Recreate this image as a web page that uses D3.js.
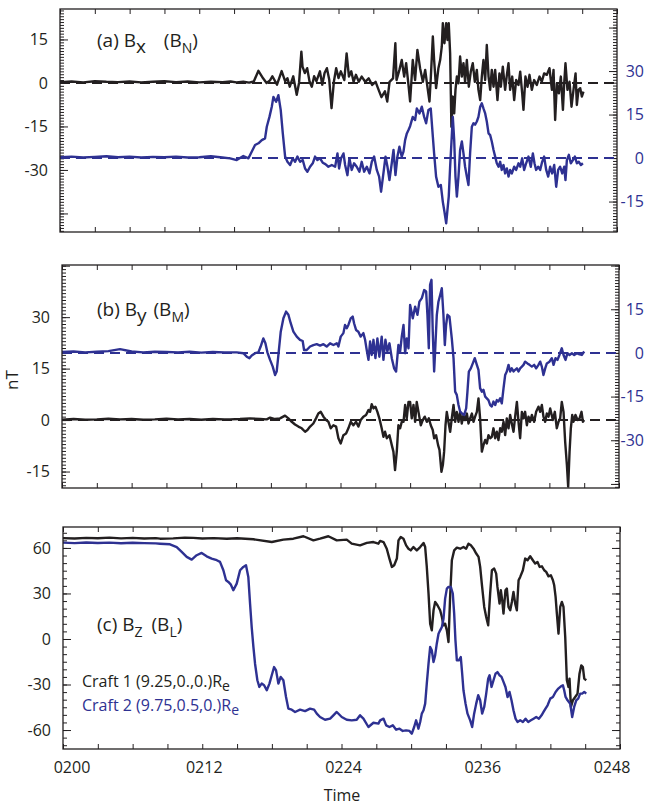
<!DOCTYPE html>
<meta charset="utf-8">
<style>
body { margin: 0; background: #fff; }
text { font-family: "Open Sans", sans-serif; }
</style>
<body>
<script src="https://d3js.org/d3.v7.min.js"></script>
<script>
// time = minutes after 02:00 UT, field values in nT
const timeTicks = [0, 12, 24, 36, 48];
const timeLabels = ["0200", "0212", "0224", "0236", "0248"];

const bxLeftLabels = [15, 0, -15, -30];
const bxRightLabels = [30, 15, 0, -15];
const byLeftLabels = [30, 15, 0, -15];
const byRightLabels = [15, 0, -15, -30];
const bzLabels = [60, 30, 0, -30, -60];

// (a) Bx, craft 1 (left axis)
const bxCraft1 = [[0,0.3],[1,0.5],[2,0.2],[3,0.6],[4,0.4],[5,0.3],[6,0.5],[7,0.2],[8,0.4],[9,0.6],[10,0.3],[11,0.5],[12,0.2],[13,0.4],[14,0.3],[14.7,0.5],[15.2,0.2],[15.8,0.4],[16.3,0.1],
[16.7,0.5],[17.1,4.2],[17.5,1.6],[17.8,0],[18.1,0.9],[18.3,2.3],[18.7,-0.6],[19.1,4.1],[19.4,0.6],[19.6,1.6],[19.8,-1.3],[20.1,2.3],[20.4,-4.1],[20.6,0],[20.8,10.8],[20.9,5.6],[21.1,3.4],[21.3,5.1],[21.5,0.6],[21.7,-1.3],[21.9,2.3],[22.1,0.6],[22.4,4.0],[22.6,-0.6],[22.8,3.4],[23.0,5.1],[23.2,1.2],[23.4,-8.7],[23.6,0.4],[23.8,5.1],[24.0,1.7],[24.2,4.0],[24.5,1.0],[24.7,10.2],[24.9,2.2],[25.1,4.0],[25.3,0.4],[25.5,2.8],[25.75,0.4],[26.0,2.2],[26.3,0.4],[26.6,1.6],[26.9,-0.7],[27.2,0.4],[27.4,-1.8],[27.7,-4.9],[28.0,-2.9],[28.2,-6.4],[28.4,0.4],[28.7,1.6],[28.9,13.7],[29.0,1.0],[29.25,4.5],[29.45,7.9],[29.66,2.2],[29.83,6.8],[30.03,-0.7],[30.17,-6.4],
[30.4,7.9],[30.6,1.0],[30.8,11.4],[31.03,5.1],[31.27,0.4],[31.47,4.5],[31.66,-1.3],[31.84,-6.4],[31.96,2.2],[32.13,16.0],[32.24,7.9],[32.41,-1.8],[32.61,5.1],[32.76,7.9],[32.9,12.5],[32.99,20.6],[33.13,13.7],[33.28,20.6],[33.39,14.8],[33.5,20.6],[33.62,10.2],[33.73,-15.1],[33.85,-4.7],[33.97,-10.5],[34.08,-2.4],[34.2,2.2],[34.34,-0.1],[34.48,9.1],[34.63,2.2],[34.77,6.8],[34.91,0.4],[35.06,7.9],[35.23,-1.3],[35.4,3.9],[35.57,6.8],[35.75,0.4],[35.92,4.5],[36.06,-2.4],[36.21,-5.9],[36.35,2.2],[36.49,7.9],[36.64,1.0],[36.78,13.1],[36.93,2.2],[37.07,-2.4],[37.21,4.5],[37.36,-1.3],[37.5,4.5],[37.7,-5.9],[37.87,3.3],[37.99,-1.3],[38.16,5.6],[38.36,-2.4],[38.51,2.8],[38.65,6.8],[38.79,-2.4],[38.97,2.2],[39.14,-5.9],[39.31,1.0],[39.51,-0.7],[39.66,3.9],[39.83,-3.6],[39.94,-9.3],[40.11,2.2],[40.29,-1.3],[40.46,2.8],[40.66,-2.4],[40.86,1.0],[41.09,-0.7],[41.32,2.2],[41.52,0.4],[41.72,3.3],[41.95,2.8],[42.18,5.1],[42.39,-2.4],[42.53,4.5],[42.67,-12.8],[42.82,-0.1],[42.99,-3.6],[43.16,2.2],[43.34,-9.3],[43.45,-0.1],[43.56,6.8],[43.73,-2.4],[43.91,0.4],[44.08,-8.2],[44.25,-2.4],[44.43,3.3],[44.54,-7.6],[44.68,-2.4],[44.83,-1.8],[44.97,-4.7],[45.11,-3.0]];

// (a) BN, craft 2 (right axis)
const bxCraft2 = [[0,0.3],[1,0.5],[2,0.2],[3,0.4],[4,0.6],[5,0.3],[6,0.5],[7,0.2],[8,0.4],[9,0.3],[10,0.5],[11,0.2],[12,0.3],[13,0.6],[14,0.2],
[14.66,-0.1],[15.23,-0.7],[15.8,0.7],[16.24,-0.1],[16.52,2.2],[16.81,4.5],[17.1,5.1],[17.39,6.2],[17.67,6.8],[17.82,10.8],[18.05,14.2],[18.25,17.7],[18.39,21.1],[18.62,19.4],[18.82,21.7],[19.02,16.6],[19.2,8.5],[19.4,0.5],[19.6,-1.3],[19.83,-2.4],[20.06,-0.1],[20.26,-1.3],[20.46,0.5],[20.69,-1.3],[20.92,-0.7],[21.12,-3.6],[21.32,-4.7],[21.55,-3.0],[21.78,-1.8],[21.98,0.5],[22.18,-0.7],[22.41,-0.1],[22.64,-1.6],[22.87,-2.1],[23.13,-3.0],[23.42,-2.4],[23.71,-3.0],[23.91,1.6],[24.05,-3.6],[24.22,-0.1],[24.43,1.6],[24.57,-2.4],[24.77,-5.9],[24.94,-0.1],[25.14,-4.1],[25.34,-1.8],[25.57,-3.0],[25.8,-4.7],[26.0,-1.3],[26.21,-4.7],[26.44,-3.0],[26.67,-5.3],[26.87,-1.3],[27.07,0.5],[27.3,-4.1],[27.5,-6.4],[27.67,-11.6],[27.87,-5.3],[28.05,0.5],[28.22,-3.0],[28.39,-7.6],[28.59,-1.8],[28.74,2.8],[28.91,-5.9],[29.08,0.5],[29.25,3.9],[29.45,0.5],[29.6,2.2],[29.74,6.2],[29.89,8.5],[30.03,9.7],[30.17,11.0],
[30.4,14.2],[30.6,13.1],[30.75,17.1],[30.98,15.4],[31.18,17.7],[31.38,14.2],[31.55,12.0],[31.75,16.6],[31.95,17.1],[32.13,7.4],[32.24,1.6],[32.41,-6.4],[32.61,-9.9],[32.82,-9.3],[32.99,-15.1],[33.13,-18.5],[33.28,-22.5],[33.39,-17.9],[33.5,-13.3],[33.62,-3.0],[33.76,7.4],[33.85,14.2],[33.97,6.2],[34.08,-6.4],[34.2,-13.3],[34.34,-6.4],[34.48,2.8],[34.63,5.7],[34.77,1.6],[34.91,-3.0],[35.06,-6.4],[35.2,-9.3],[35.34,1.6],[35.49,10.8],[35.63,12.0],[35.77,11.5],[35.92,12.6],[36.06,14.2],[36.21,17.7],[36.35,18.9],[36.49,17.1],[36.64,15.4],[36.78,12.6],[36.93,8.5],[37.07,7.9],[37.21,5.7],[37.36,2.8],[37.5,0.5],[37.64,-1.8],[37.79,-3.0],[37.93,-1.3],[38.07,-4.1],[38.22,-2.4],[38.36,-5.3],[38.51,-3.6],[38.65,-6.4],[38.79,-4.1],[38.94,-5.3],[39.14,-3.0],[39.31,-4.1],[39.51,-1.8],[39.66,-3.0],[39.83,-0.1],[40.0,-4.1],[40.17,-1.8],[40.37,0.5],[40.57,-3.0],[40.75,1.6],[40.89,-1.8],[41.03,-4.1],[41.21,-3.0],[41.38,-4.1],[41.55,-1.3],[41.72,0.5],[41.9,-4.1],[42.07,-6.4],[42.24,-3.0],[42.41,-5.3],[42.59,-2.4],[42.76,-9.9],[42.93,-4.1],[43.1,-3.0],[43.28,-5.3],[43.45,-3.0],[43.56,-7.6],[43.68,-0.7],[43.85,1.1],[44.02,-1.8],[44.2,-0.7],[44.37,0.5],[44.54,-1.8],[44.71,-1.3],[44.89,-2.4],[45.06,-1.8]];

// (b) By, craft 1 (left axis)
const byCraft1 = [[0,0.1],[1,0.3],[2,0.1],[3,0.2],[4,0.4],[5,0.2],[6,0.3],[7,0.1],[8,0.2],[9,0.4],[10,0.2],[11,0.3],[12,0.1],[13,0.3],[14,0.2],
[14.48,0.2],[15.34,0.3],[16.2,0.5],[17.07,0.3],[17.64,0.2],[17.93,0.7],[18.36,0.3],[18.79,0.5],[19.22,1.3],[19.51,0.5],[19.8,-0.5],[20.08,-1.3],[20.37,-1.9],[20.66,-2.4],[20.95,-3.4],[21.15,-2.9],[21.38,-1.9],[21.66,-1.0],[21.89,0.5],[22.09,1.9],[22.3,2.4],[22.53,1.0],[22.76,0],[22.96,-0.5],[23.16,-2.4],[23.39,-1.5],[23.62,-1.9],[23.82,-5.3],[24.02,-6.8],[24.25,-4.4],[24.48,-3.9],[24.68,-2.4],[24.88,-0.5],[25.11,-1.5],[25.34,-0.5],[25.54,-1.9],[25.74,0],[25.97,1.0],[26.2,1.5],[26.41,2.9],[26.55,2.4],[26.69,4.6],[26.84,3.4],[27.01,3.9],[27.18,2.4],[27.35,0.5],[27.55,-2.4],[27.7,-4.9],[27.84,-3.4],[27.99,-5.3],[28.22,-4.4],[28.42,-7.3],[28.56,-9.2],[28.7,-14.6],[28.85,-9.2],[28.99,-1.5],[29.14,-2.4],[29.28,-0.5],[29.43,-0.5],[29.57,4.4],[29.71,0.5],[29.86,5.3],
[30.0,5.3],[30.14,0.5],[30.29,4.4],[30.43,-0.5],[30.57,5.3],[30.72,2.4],[30.92,-1.5],[31.09,0],[31.26,1.0],[31.44,-0.5],[31.61,0.5],[31.78,-1.5],[31.95,-2.9],[32.07,-5.3],[32.24,-4.4],[32.41,-7.3],[32.53,-8.7],[32.7,-15.1],[32.82,-13.1],[32.93,-9.2],[33.05,-1.5],[33.16,2.4],[33.3,-0.5],[33.45,-3.4],[33.59,0.5],[33.74,4.4],[33.88,-0.5],[34.02,2.4],[34.17,-0.5],[34.31,2.4],[34.45,-1.0],[34.6,1.5],[34.74,0],[34.89,1.9],[35.03,-1.0],[35.17,0.5],[35.32,1.9],[35.46,-0.5],[35.6,1.0],[35.75,2.4],[35.89,6.3],[36.03,0.5],[36.18,-9.2],[36.32,-7.3],[36.47,-5.8],[36.61,-6.8],[36.75,-4.4],[36.9,-5.3],[37.04,-4.9],[37.18,-2.4],[37.33,-5.3],[37.47,-3.4],[37.61,-5.8],[37.76,-2.4],[37.9,-3.4],[38.05,-0.5],[38.19,-4.4],[38.33,0.5],[38.48,-2.4],[38.62,1.5],[38.76,-1.0],[38.91,-3.4],[39.05,1.0],[39.2,5.3],[39.34,-0.5],[39.48,-5.3],[39.63,2.4],[39.77,0.5],[39.91,2.4],[40.06,-1.5],[40.2,1.0],[40.34,-0.5],[40.49,1.5],[40.69,-0.5],[40.86,2.4],[41.06,3.9],[41.21,2.4],[41.35,4.4],[41.49,1.0],[41.64,-0.5],[41.78,1.9],[41.93,1.0],[42.07,3.4],[42.3,0],[42.47,2.4],[42.64,-2.4],[42.79,-0.5],[42.93,0.5],[43.07,5.3],[43.22,2.4],[43.36,-6.3],[43.51,-13.1],[43.62,-19.4],[43.74,-9.2],[43.85,-2.4],[43.97,1.5],[44.08,-0.5],[44.25,1.5],[44.43,0],[44.6,0.5],[44.77,2.4],[44.89,-0.5],[45.0,0]];

// (b) BM, craft 2 (right axis)
const byCraft2 = [[0,0.3],[1,0.5],[2,0.2],[3,0.4],[4,0.6],[5,1.3],[6,0.5],[7,0.2],[8,0.4],[9,0.3],[10,0.2],[11,0.4],[12,0.1],[13,0.3],[14,0.2],
[14.48,0.2],[15.05,0.2],[15.63,-0.1],[15.92,-1.3],[16.15,-1.8],[16.35,-0.9],[16.64,-0.1],[16.92,0.2],[17.12,2.2],[17.35,5.0],[17.53,3.3],[17.7,0.2],[17.93,-2.4],[18.16,-4.7],[18.36,-7.6],[18.5,-6.4],[18.65,-0.7],[18.85,7.3],[19.08,11.9],[19.31,14.2],[19.51,13.1],[19.71,10.2],[19.94,7.3],[20.23,5.6],[20.51,4.5],[20.74,4.1],[20.86,1.0],[21.09,1.0],[21.38,2.2],[21.66,2.7],[21.95,3.0],[22.24,2.5],[22.53,3.0],[22.81,2.2],[23.1,3.3],[23.39,2.7],[23.68,3.3],[23.82,2.2],[24.02,5.6],[24.25,6.8],[24.39,9.6],[24.54,8.5],[24.68,9.6],[24.88,11.9],[25.05,12.5],[25.17,10.2],[25.34,7.9],[25.54,7.3],[25.74,5.6],[25.97,6.8],[26.12,4.5],[26.26,1.0],[26.41,-2.4],[26.55,3.9],[26.69,-0.7],[26.84,4.5],[27.01,-1.8],[27.18,5.0],[27.35,-1.3],[27.55,5.6],[27.7,-2.4],[27.87,4.5],[28.04,0.5],[28.22,3.3],[28.42,-1.8],[28.62,-5.3],[28.79,-6.4],[28.99,2.7],[29.14,0.5],[29.28,5.6],[29.43,9.6],[29.57,-0.1],[29.71,5.0],[29.86,1.6],
[30.0,16.5],[30.23,11.9],[30.43,15.9],[30.63,13.1],[30.8,17.6],[31.01,18.8],[31.21,21.6],[31.38,21.1],[31.49,13.1],[31.61,1.6],[31.72,23.4],[31.84,25.1],[31.95,7.3],[32.07,-6.4],[32.18,2.7],[32.3,13.1],[32.44,17.6],[32.59,19.9],[32.73,22.2],[32.87,13.1],[32.99,2.7],[33.1,9.6],[33.22,13.1],[33.39,12.5],[33.59,5.0],[33.74,-1.8],[33.88,-13.3],[34.02,-14.4],[34.17,-17.9],[34.31,-20.2],[34.45,-20.7],[34.66,-21.3],[34.83,-19.0],[34.94,-13.3],[35.06,-6.4],[35.23,-5.3],[35.4,-3.6],[35.57,-1.8],[35.75,-4.1],[35.89,-5.8],[36.03,-12.1],[36.18,-13.3],[36.32,-12.7],[36.47,-15.0],[36.61,-15.6],[36.75,-16.2],[36.9,-17.9],[37.04,-18.4],[37.18,-16.7],[37.33,-17.9],[37.47,-16.2],[37.61,-16.7],[37.76,-15.6],[37.9,-17.3],[38.05,-12.1],[38.19,-7.6],[38.33,-6.4],[38.48,-4.1],[38.62,-6.4],[38.76,-5.3],[38.91,-6.4],[39.05,-5.8],[39.2,-5.3],[39.34,-6.4],[39.48,-5.3],[39.63,-4.7],[39.77,-4.1],[39.91,-3.0],[40.11,-3.6],[40.29,-4.1],[40.49,-4.7],[40.69,-4.1],[40.86,-5.3],[41.06,-4.1],[41.21,-3.0],[41.35,-4.7],[41.49,-7.6],[41.64,-5.3],[41.78,-3.6],[42.01,-3.0],[42.21,-1.8],[42.36,-4.1],[42.53,-1.8],[42.7,-2.4],[42.87,-0.7],[43.07,1.6],[43.22,-0.7],[43.39,-2.4],[43.56,-0.1],[43.74,-0.7],[43.94,-0.1],[44.14,-0.7],[44.37,-0.1],[44.6,-0.5],[44.8,-0.7],[45.0,0.5]];

// (c) Bz, craft 1
const bzCraft1 = [[0,66.5],[1,66.2],[2,66.6],[3,66.4],[4,66.8],[5,66.3],[6,66.6],[7,66.2],[8,66.5],[8.36,66.1],[9.5,66.3],[10.5,66.8],[11.23,66.6],[12,66.2],[13,66.5],[14.11,66.1],[15,66.4],[16.41,65.7],[17.99,63.9],[18.99,65.5],[19.85,66.1],[20.72,67.7],[21.58,65.0],[22.15,66.1],[22.87,67.7],[23.59,65.0],[24.45,65.5],[24.88,62.8],[25.6,61.7],[26.18,63.3],[26.75,63.9],[27.18,62.8],
[27.33,64.6],[27.62,63.9],[27.9,59.5],[28.13,53.0],[28.34,47.5],[28.54,48.6],[28.77,53.0],[28.91,65.0],[29.11,67.2],[29.34,66.1],[29.57,61.7],[29.77,59.5],[29.97,58.4],[30.2,60.6],[30.49,58.4],[30.78,60.6],[31.07,63.3],[31.21,60.6],[31.35,47.5],[31.5,29.9],[31.64,10.1],[31.78,5.7],[31.93,18.9],[32.07,24.4],[32.27,22.2],[32.5,18.9],[32.65,14.5],[32.79,9.0],[32.93,10.1],[33.08,5.7],[33.22,-2.0],[33.36,27.7],[33.51,51.9],[33.71,58.4],[33.94,60.2],[34.23,59.5],[34.51,60.6],[34.74,59.5],[34.94,62.8],[35.15,61.7],[35.38,59.5],[35.61,56.3],[35.81,54.1],[35.95,47.5],[36.09,36.5],[36.3,21.1],[36.47,14.5],[36.64,9.0],[36.81,29.9],[36.96,45.3],[37.16,46.4],[37.33,43.1],[37.44,34.3],[37.62,23.3],[37.73,32.1],[37.85,25.5],[37.96,16.7],[38.13,32.1],[38.25,33.2],[38.39,21.1],[38.54,18.9],[38.68,24.4],[38.82,31.0],[38.97,23.3],[39.11,18.9],[39.26,38.7],[39.4,40.9],[39.63,45.3],[39.83,53.0],[40.03,51.9],[40.26,54.5],[40.49,51.9],[40.69,49.7],[40.89,50.8],[41.07,47.5],[41.27,47.9],[41.47,45.3],[41.64,44.2],[41.84,41.3],[42.04,42.0],[42.22,38.7],[42.33,35.4],[42.45,27.7],[42.56,16.7],[42.7,3.5],[42.85,21.1],[42.99,24.4],[43.13,21.1],[43.28,1.3],[43.42,-27.2],[43.56,-31.6],[43.65,-26.1],[43.77,-44.8],[43.94,-40.4],[44.14,-38.2],[44.34,-36.0],[44.51,-22.9],[44.66,-17.4],[44.8,-18.5],[44.92,-26.1],[45.09,-27.2]];

// (c) BL, craft 2
const bzCraft2 = [[0,63.5],[1,63.2],[2,63.6],[3,63.3],[4,63.5],[5,63.1],[6,63.4],[7,63.2],[8,63.0],[8.36,62.8],[9.22,62.4],[9.8,60.6],[10.23,57.4],[10.66,54.1],[11.09,52.3],[11.52,55.2],[11.95,56.7],[12.38,54.5],[12.81,53.0],[13.25,51.9],[13.53,50.8],[13.82,45.3],[14.05,38.7],[14.25,37.6],[14.45,36.0],[14.68,32.1],[14.97,36.5],[15.26,45.3],[15.54,47.5],[15.77,48.6],[15.97,40.9],[16.12,23.3],[16.26,7.9],[16.41,-5.3],[16.55,-16.3],[16.75,-27.2],[16.92,-31.6],[17.12,-29.4],[17.33,-30.5],[17.56,-33.8],[17.79,-29.4],[17.99,-23.9],[18.19,-18.5],[18.36,-20.7],[18.56,-29.4],[18.76,-25.0],[18.99,-27.2],[19.22,-38.2],[19.42,-45.9],[19.71,-46.6],[20.0,-48.1],[20.43,-46.6],[20.86,-47.5],[21.29,-45.9],[21.64,-46.6],[21.87,-49.2],[22.15,-51.4],[22.58,-53.2],[23.02,-52.5],[23.3,-50.3],[23.59,-48.1],[24.02,-51.4],[24.45,-53.2],[24.88,-53.6],[25.31,-53.2],[25.6,-50.3],[25.89,-52.5],[26.32,-58.0],[26.75,-55.2],[27.18,-55.8],
[27.33,-53.6],[27.62,-52.5],[27.85,-56.9],[28.13,-58.0],[28.42,-56.9],[28.71,-59.8],[29.0,-59.1],[29.28,-60.6],[29.57,-60.2],[29.86,-60.6],[30.06,-62.4],[30.26,-58.0],[30.43,-53.6],[30.63,-59.1],[30.78,-54.7],[30.92,-49.2],[31.07,-47.0],[31.21,-42.6],[31.35,-29.4],[31.5,-16.3],[31.64,-5.3],[31.78,-7.5],[31.93,-15.2],[32.07,-10.8],[32.21,-3.1],[32.36,3.5],[32.5,5.7],[32.65,7.9],[32.79,13.4],[32.93,26.6],[33.08,33.2],[33.22,34.3],[33.42,34.3],[33.59,29.9],[33.71,16.7],[33.82,-0.9],[33.94,-14.1],[34.11,-14.1],[34.28,-11.9],[34.4,-22.9],[34.51,-33.8],[34.69,-42.6],[34.86,-49.2],[35.09,-53.6],[35.26,-58.0],[35.43,-49.2],[35.61,-42.6],[35.78,-37.1],[35.95,-40.4],[36.12,-49.2],[36.3,-44.8],[36.47,-36.0],[36.64,-26.1],[36.76,-23.9],[36.93,-31.6],[37.1,-27.2],[37.27,-22.9],[37.44,-21.8],[37.62,-23.9],[37.79,-25.0],[37.96,-28.3],[38.13,-31.6],[38.31,-38.2],[38.48,-34.9],[38.65,-40.4],[38.82,-47.0],[39.0,-52.5],[39.17,-54.7],[39.4,-53.6],[39.63,-54.7],[39.86,-52.5],[40.09,-54.7],[40.32,-53.6],[40.55,-52.5],[40.78,-51.4],[41.01,-52.5],[41.24,-50.3],[41.41,-48.1],[41.58,-45.9],[41.76,-43.7],[41.99,-39.3],[42.22,-38.2],[42.45,-34.9],[42.68,-32.7],[42.91,-31.2],[43.08,-30.5],[43.19,-33.8],[43.31,-38.2],[43.48,-40.4],[43.71,-42.6],[43.88,-51.4],[44.05,-44.8],[44.23,-40.4],[44.4,-39.3],[44.57,-36.0],[44.74,-36.0],[44.92,-34.9],[45.09,-36.0]];

var black = "#231f20", blue = "#2e3192";
var plotW = 557;

var svg = d3.select("body").append("svg")
    .attr("width", 649)
    .attr("height", 806);

var panels = [
  {x0: 60, top: 9, bottom: 232, left: [-51.4, 25.5], right: [-25.5, 51.4],
   leftLabels: bxLeftLabels, rightLabels: bxRightLabels, minor: 1, major: 15,
   c1: bxCraft1, c2: bxCraft2, dashed: true,
   title: {y: 47, letter: "(a) B", sub: "x", subSize: 19, gap: 13, sub2: "N"}},
  {x0: 62, top: 265, bottom: 488, left: [-19.8, 45.2], right: [-46.4, 30.2],
   leftLabels: byLeftLabels, rightLabels: byRightLabels, minor: 1, major: 15,
   c1: byCraft1, c2: byCraft2, dashed: true,
   title: {y: 316, letter: "(b) B", sub: "y", subSize: 19, gap: 2, sub2: "M"}},
  {x0: 63, top: 527, bottom: 749, left: [-72.5, 73.8], right: null,
   leftLabels: bzLabels, rightLabels: [], minor: 5, major: 30,
   c1: bzCraft1, c2: bzCraft2, dashed: false,
   title: {y: 631, letter: "(c) B", sub: "Z", subSize: 14, gap: 4, sub2: "L"}}
];

function tickGroup(g, axis, tr) {
  var a = g.append("g").attr("transform", tr).call(axis);
  a.select(".domain").remove();
  a.selectAll("line").attr("stroke", black).attr("stroke-width", 1);
  return a;
}

function inRange(dom, step) {
  return d3.range(Math.ceil(dom[0] / step) * step, dom[1] + 1e-9, step);
}

panels.forEach(function(p) {
  var x = d3.scaleLinear().domain([0, 48]).range([p.x0, p.x0 + plotW]);
  var yL = d3.scaleLinear().domain(p.left).range([p.bottom, p.top]);
  var yR = p.right ? d3.scaleLinear().domain(p.right).range([p.bottom, p.top]) : yL;
  var g = svg.append("g");
  var xr = p.x0 + plotW;

  // time ticks on top and bottom, every 3 minutes
  var xt = d3.range(0, 49, 3);
  tickGroup(g, d3.axisBottom(x).tickValues(xt).tickSize(-5).tickFormat(""), "translate(0," + p.bottom + ")");
  tickGroup(g, d3.axisTop(x).tickValues(xt).tickSize(-5).tickFormat(""), "translate(0," + p.top + ")");

  // left ticks
  tickGroup(g, d3.axisLeft(yL).tickValues(inRange(p.left, p.minor)).tickSize(-4).tickFormat(""), "translate(" + p.x0 + ",0)");
  tickGroup(g, d3.axisLeft(yL).tickValues(inRange(p.left, p.major)).tickSize(-8).tickFormat(""), "translate(" + p.x0 + ",0)");
  var la = tickGroup(g, d3.axisLeft(yL).tickValues(p.leftLabels).tickSize(0).tickPadding(12).tickFormat(function(d) { return String(d); }), "translate(" + p.x0 + ",0)");
  la.selectAll("text").style("font-size", "16px").attr("fill", black);

  // right ticks
  var rd = p.right || p.left;
  tickGroup(g, d3.axisRight(yR).tickValues(inRange(rd, p.minor)).tickSize(-4).tickFormat(""), "translate(" + xr + ",0)");
  tickGroup(g, d3.axisRight(yR).tickValues(inRange(rd, p.major)).tickSize(-8).tickFormat(""), "translate(" + xr + ",0)");
  g.selectAll(".rlab").data(p.rightLabels).enter().append("text")
    .attr("x", 644)
    .attr("y", function(d) { return yR(d); })
    .attr("dy", "0.35em")
    .attr("text-anchor", "end")
    .attr("fill", blue)
    .style("font-size", "16px")
    .text(function(d) { return String(d); });

  // zero reference lines
  if (p.dashed) {
    g.append("line").attr("x1", p.x0).attr("x2", xr).attr("y1", yL(0)).attr("y2", yL(0))
      .attr("stroke", black).attr("stroke-width", 2).attr("stroke-dasharray", "10,6");
    g.append("line").attr("x1", p.x0).attr("x2", xr).attr("y1", yR(0)).attr("y2", yR(0))
      .attr("stroke", blue).attr("stroke-width", 2).attr("stroke-dasharray", "10,6");
  }

  // curves
  var line1 = d3.line().x(function(d) { return x(d[0]); }).y(function(d) { return yL(d[1]); });
  var line2 = d3.line().x(function(d) { return x(d[0]); }).y(function(d) { return yR(d[1]); });
  g.append("path").datum(p.c1).attr("d", line1)
    .attr("fill", "none").attr("stroke", black).attr("stroke-width", 2.4).attr("stroke-linejoin", "round");
  g.append("path").datum(p.c2).attr("d", line2)
    .attr("fill", "none").attr("stroke", blue).attr("stroke-width", 2.4).attr("stroke-linejoin", "round");

  // frame
  g.append("rect").attr("x", p.x0).attr("y", p.top).attr("width", plotW).attr("height", p.bottom - p.top)
    .attr("fill", "none").attr("stroke", black).attr("stroke-width", 1.3);

  // title
  var t = g.append("text").attr("x", 97).attr("y", p.title.y).attr("fill", black).style("font-size", "19px");
  t.append("tspan").text(p.title.letter);
  t.append("tspan").attr("dy", 6).style("font-size", p.title.subSize + "px").text(p.title.sub);
  t.append("tspan").attr("dx", p.title.gap).attr("dy", -6).text(" (B");
  t.append("tspan").attr("dy", 6).style("font-size", "14px").text(p.title.sub2);
  t.append("tspan").attr("dy", -6).text(")");

  if (!p.dashed) {
    // time labels on the bottom panel
    var off = [9, 2, 2, 2, -8];
    g.selectAll(".tl").data(timeTicks).enter().append("text")
      .attr("x", function(d, i) { return x(d) + off[i]; })
      .attr("y", 773)
      .attr("text-anchor", "middle")
      .attr("fill", black)
      .style("font-size", "16px")
      .text(function(d, i) { return timeLabels[i]; });
  }
});

// legend
var leg = [["Craft 1 (9.25,0.,0.)R", black, 687], ["Craft 2 (9.75,0.5,0.)R", blue, 711]];
leg.forEach(function(l) {
  var t = svg.append("text").attr("x", 82).attr("y", l[2]).attr("fill", l[1]).style("font-size", "16px");
  t.append("tspan").text(l[0]);
  t.append("tspan").attr("dy", 4).style("font-size", "14px").text("e");
});

svg.append("text")
  .attr("transform", "translate(18,380) rotate(-90)")
  .attr("text-anchor", "middle")
  .attr("fill", black)
  .style("font-size", "17px")
  .text("nT");

svg.append("text")
  .attr("x", 342).attr("y", 801)
  .attr("text-anchor", "middle")
  .attr("fill", black)
  .style("font-size", "16px")
  .text("Time");
</script>
</body>
